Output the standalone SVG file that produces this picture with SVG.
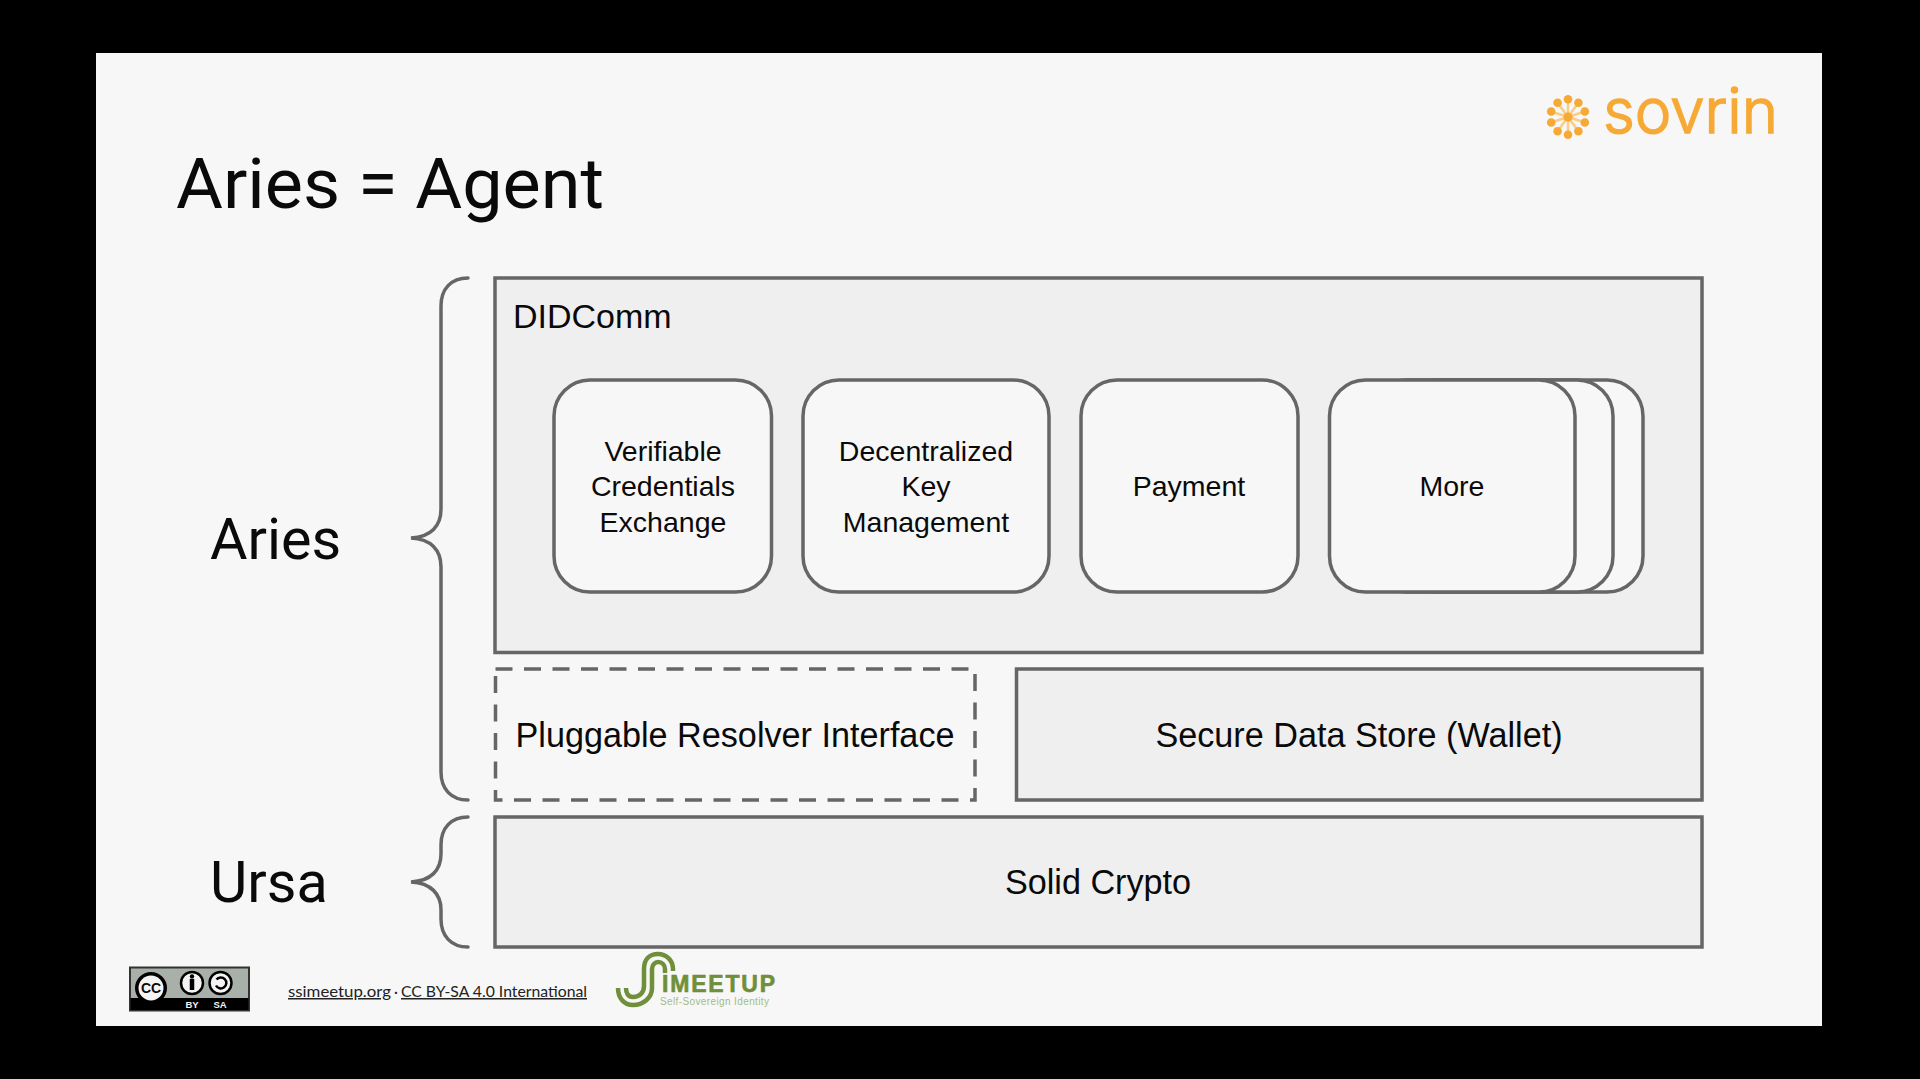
<svg xmlns="http://www.w3.org/2000/svg" width="1920" height="1079" viewBox="0 0 1920 1079">
<defs><style>
.b{fill:#efefef;stroke:#666;stroke-width:3.500}
.r{fill:#f7f7f7;stroke:#666;stroke-width:3.500}
.br{fill:none;stroke:#666;stroke-width:3.500;stroke-linecap:round}
text{font-family:"Liberation Sans",Arial,sans-serif;fill:#0a0a0a}
.m{text-anchor:middle;font-size:28.500px}
.l{text-anchor:middle;font-size:34.200px}
.h{font-family:Roboto,"Liberation Sans",sans-serif;font-weight:400}
.o{fill:#f6a935}
.g{fill:none;stroke:#6f8f3a;stroke-width:4.500}
.w{fill:#f4f4f4;stroke:#000;stroke-width:2.500}
</style></defs>
<rect width="1920" height="1079" fill="#000"/>
<rect x="96" y="53" width="1726" height="973" fill="#f7f7f7"/>
<g id="title"><text class="h" x="176" y="208" font-size="71" textLength="428" lengthAdjust="spacingAndGlyphs">Aries = Agent</text></g>
<g id="logo-sovrin">
<path d="M1568 117V99M1568 117L1578.400 102.700M1568 117L1584.800 111.500M1568 117L1584.800 122.500M1568 117L1578.400 131.300M1568 117V135M1568 117L1557.600 131.300M1568 117L1551.200 122.500M1568 117L1551.200 111.500M1568 117L1557.600 102.700" stroke="#f9cd85" stroke-width="2.500" fill="none"/>
<g class="o"><circle cx="1568" cy="117" r="4.500"/><circle cx="1568" cy="99.300" r="4.300"/><circle cx="1578.400" cy="102.700" r="4.300"/><circle cx="1584.800" cy="111.500" r="4.300"/><circle cx="1584.800" cy="122.500" r="4.300"/><circle cx="1578.400" cy="131.300" r="4.300"/><circle cx="1568" cy="134.700" r="4.300"/><circle cx="1557.600" cy="131.300" r="4.300"/><circle cx="1551.200" cy="122.500" r="4.300"/><circle cx="1551.200" cy="111.500" r="4.300"/><circle cx="1557.600" cy="102.700" r="4.300"/></g>
<text x="1603" y="133" font-size="63" textLength="175" lengthAdjust="spacingAndGlyphs" style="font-family:Inter,'Liberation Sans',sans-serif;font-weight:300;fill:#f6a935;stroke:#f6a935;stroke-width:1.500">sovrin</text>
</g>
<g id="connectors">
<path class="br" d="M468 278C451 278 441 289 441 306V509C441 526 431 537 411 538C431 539 441 550 441 567V772C441 789 451 800 468 800"/>
<path class="br" d="M468 817C451 817 441 828 441 845V854C441 870 431 881 411 882C431 883 441 894 441 910V919C441 936 451 947 468 947"/>
</g>
<g id="label-aries"><text class="h" x="210" y="559" font-size="57.500">Aries</text></g>
<g id="label-ursa"><text class="h" x="210" y="902" font-size="57.500">Ursa</text></g>
<g id="didcomm">
<rect class="b" x="495" y="278" width="1207" height="374.500"/>
<text x="513" y="327.500" font-size="34">DIDComm</text>
</g>
<g id="vc"><rect class="r" x="554" y="380" width="217.500" height="212" rx="36"/>
<text class="m"><tspan x="663" y="460.500">Verifiable</tspan><tspan x="663" y="496">Credentials</tspan><tspan x="663" y="531.500">Exchange</tspan></text></g>
<g id="dkm"><rect class="r" x="803" y="380" width="246" height="212" rx="36"/>
<text class="m"><tspan x="926" y="460.500">Decentralized</tspan><tspan x="926" y="496">Key</tspan><tspan x="926" y="531.500">Management</tspan></text></g>
<g id="payment"><rect class="r" x="1081" y="380" width="217" height="212" rx="36"/>
<text class="m" x="1189" y="496">Payment</text></g>
<g id="more">
<rect class="r" x="1400" y="380" width="243" height="212" rx="36"/>
<rect class="r" x="1370" y="380" width="243" height="212" rx="36"/>
<rect class="r" x="1329.500" y="380" width="245.500" height="212" rx="36"/>
<text class="m" x="1452" y="496">More</text></g>
<g id="resolver"><rect x="495.500" y="669" width="479.500" height="131" fill="#f7f7f7" stroke="#666" stroke-width="3.500" stroke-dasharray="17 11.500"/>
<text class="l" x="735" y="746.500">Pluggable Resolver Interface</text></g>
<g id="wallet"><rect class="b" x="1016.500" y="669" width="685.500" height="131"/>
<text class="l" x="1359" y="746.500">Secure Data Store (Wallet)</text></g>
<g id="crypto"><rect class="b" x="495" y="817" width="1207" height="130"/>
<text class="l" x="1098" y="894" style="font-size:34.200px">Solid Crypto</text></g>
<g id="cc-badge">
<rect x="130" y="967.500" width="119" height="43" fill="#a9b0a9" stroke="#333" stroke-width="2"/>
<rect x="130.500" y="998" width="118" height="12" fill="#000"/>
<circle cx="151" cy="988" r="16" fill="#000"/><circle cx="151" cy="988" r="12.500" fill="#f4f4f4"/>
<text x="151" y="993" text-anchor="middle" font-size="14" font-weight="700">CC</text>
<circle class="w" cx="192" cy="983" r="11"/>
<circle cx="192" cy="976.500" r="2.200" fill="#000"/><path d="M192 979V990" stroke="#000" stroke-width="4.500"/>
<circle class="w" cx="220.500" cy="983" r="11"/>
<path d="M216.500 979.500A5.500 5.500 0 1 1 216 985.500" fill="none" stroke="#000" stroke-width="2.500"/>
<text x="192" y="1007.500" text-anchor="middle" font-size="9.500" font-weight="700" style="fill:#f4f4f4">BY</text>
<text x="220" y="1007.500" text-anchor="middle" font-size="9.500" font-weight="700" style="fill:#f4f4f4">SA</text>
</g>
<g id="footer">
<text x="288" y="997" font-size="15" text-decoration="underline" textLength="103" lengthAdjust="spacingAndGlyphs" style="font-family:Lato,sans-serif;fill:#222">ssimeetup.org</text>
<text x="394" y="997" font-size="15" style="font-family:Lato,sans-serif;fill:#222">·</text>
<text x="401" y="997" font-size="15" text-decoration="underline" textLength="186" lengthAdjust="spacingAndGlyphs" style="font-family:Lato,sans-serif;fill:#222">CC BY-SA 4.0 International</text>
</g>
<g id="logo-ssimeetup">
<path class="g" d="M673 971V969C673 960 666 954 658 954C649 954 644 960 644 969V986C644 993 639 997 633 997C628 997 626 993 626 988"/>
<path class="g" d="M665 973V969C665 965 662 962 658 962C655 962 652 965 652 969V988C652 998 643 1005 633 1005C624 1005 618 998 618 988"/>
<text x="662" y="992" font-size="23" font-weight="700" textLength="113" lengthAdjust="spacing" style="fill:#6f8f3a;stroke:#6f8f3a;stroke-width:.6">IMEETUP</text>
<text x="660" y="1005" font-size="10" textLength="109" lengthAdjust="spacing" style="fill:#a4bb84">Self-Sovereign Identity</text>
</g>
</svg>
